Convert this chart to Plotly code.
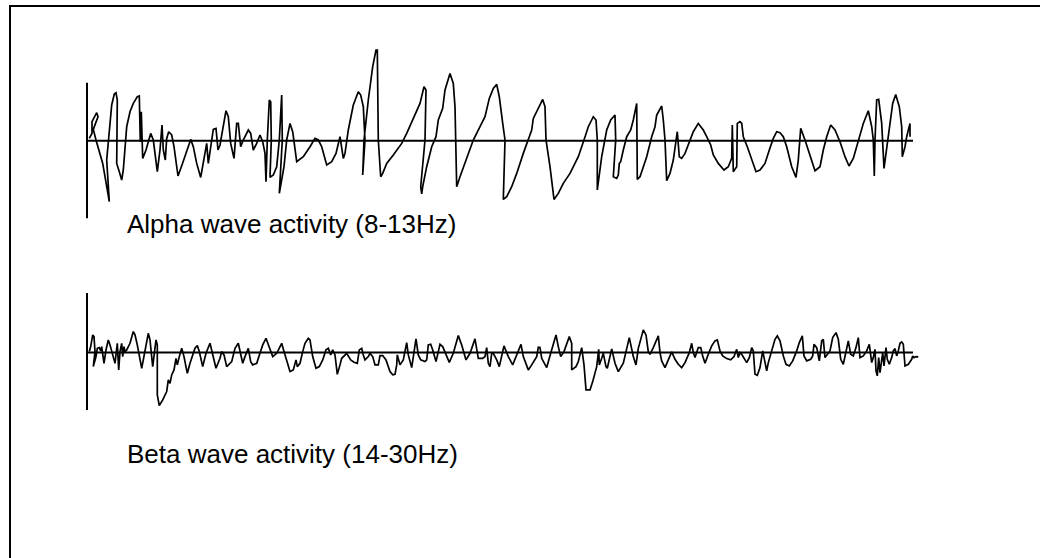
import plotly.graph_objects as go

# ---- Data (time in ms, amplitude in µV, arbitrary scale) ----
alpha_t = [2.3, 5.0, 5.0, 9.7, 11.0, 7.0, 6.3, 9.0, 13.0, 15.7, 18.0, 20.3, 22.3, 19.7, 23.0, 24.7, 27.3, 29.0, 30.3, 30.3,
           29.7, 32.3, 34.7, 36.3, 39.0, 39.7, 43.0, 46.3, 50.3, 52.3, 53.3, 54.3, 55.7, 59.0, 63.7, 66.3, 70.3, 73.0, 75.0, 76.3,
           78.3, 79.7, 81.7, 84.7, 87.0, 91.0, 95.0, 99.7, 103.7, 106.3, 109.7, 113.7, 117.0, 119.7, 121.3, 123.0, 126.3, 129.0, 131.0, 133.0,
           136.3, 139.0, 141.3, 143.7, 147.0, 149.7, 151.3, 153.7, 156.3, 161.3, 163.7, 166.3, 169.7, 173.0, 175.7, 178.0, 179.0, 180.3, 182.3, 183.7,
           184.3, 183.0, 186.3, 189.7, 192.3, 194.7, 195.3, 192.3, 197.0, 199.7, 203.0, 205.7, 209.7, 216.3, 223.0, 228.0, 231.3, 234.7, 239.7, 244.7,
           249.0, 253.0, 256.3, 258.0, 261.3, 266.3, 271.3, 273.7, 276.3, 278.0, 275.7, 277.0, 281.3, 285.7, 289.0, 290.3, 291.3, 293.7, 295.7, 299.7,
           306.3, 314.7, 319.7, 326.3, 333.0, 337.0, 339.0, 338.0, 333.7, 334.7, 335.7, 339.7, 344.7, 349.0, 351.3, 355.7, 358.0, 363.0, 366.3, 368.0,
           369.0, 369.7, 373.0, 379.0, 386.3, 393.0, 398.0, 402.3, 406.3, 409.7, 412.3, 415.7, 418.0, 416.3, 419.7, 424.7, 429.7, 436.3, 441.3, 444.7,
           446.3, 451.3, 455.7, 458.0, 459.0, 463.0, 467.0, 471.3, 476.3, 483.0, 491.3, 497.0, 501.3, 506.3, 509.0, 510.3, 510.3, 514.7, 519.7, 523.7,
           528.0, 528.7, 526.3, 529.7, 531.3, 532.3, 533.7, 536.3, 539.7, 543.7, 546.3, 549.7, 550.3, 550.3, 553.0, 559.7, 564.7, 568.0, 569.7, 573.0,
           574.7, 576.3, 578.0, 579.7, 583.0, 586.3, 589.0, 590.3, 592.3, 594.7, 598.0, 603.0, 606.3, 611.3, 616.3, 619.7, 623.7, 626.3, 631.3, 637.0,
           641.3, 644.7, 645.3, 646.3, 649.7, 650.3, 653.0, 654.7, 656.3, 660.3, 664.7, 669.0, 673.0, 678.0, 682.3, 686.3, 689.7, 693.0, 696.3, 699.7,
           704.7, 709.0, 711.3, 713.7, 718.0, 723.0, 728.0, 733.0, 736.3, 739.7, 743.7, 748.0, 753.0, 758.0, 762.0, 766.3, 771.3, 776.3, 781.3, 784.7,
           786.3, 787.3, 788.0, 789.7, 791.7, 794.7, 797.0, 799.7, 803.0, 805.7, 808.7, 812.3, 814.7, 815.3, 818.0, 819.7, 823.0, 823.0]
alpha_uv = [2.3, 7.3, 19, 28, 24, 14.7, 11.3, 0.7, -12.7, -22.7, -36, -49.3, -61, -19.3, 14, 35.7, 46.7, 48, 40.7, 0.7,
            -22.7, -31, -39.3, -29.3, 0.7, 14, 29, 37.3, 44, 44.7, -1, 29, -17.7, -9.3, 7.3, 0.7, -31, -9.3, 15.7, -9.3,
            -19.3, 2.3, 9, 5.7, -6, -35.3, -24.3, -9.3, 1.3, -6, -22.7, -36.7, -19.3, -2.7, -22.7, -9.3, 11.3, 12.3, -9.3, -4.3,
            14, 30, 24, -2.7, -17.7, 17.3, 17.3, -6, 0.7, 10.7, 7.3, -9.3, -2.7, 5.7, -1, -12.7, -41, 0.7, 40.7, 39,
            0.7, -36.7, -34.3, -26, 0.7, 45.7, 0.7, -52.7, -26, 0.7, 17.3, 9, -21, -16, -6, 2.3, 0.7, -6, -24.3, -21,
            -12.7, 4, -17.7, -12.7, 10.7, 35.7, 49, 45.7, 34, 0.7, -34.3, 0.7, 40.7, 74, 90.7, 90.7, 0.7, -36, -32.7, -22.7,
            -14.3, -2.7, 7.3, 22.3, 37.3, 54, 50.7, 0.7, -46, -53.3, -46, -26, -6, 4, 20.7, 32.3, 50.7, 67.3, 57.3, 34,
            0.7, -46, -36, -19.3, 0.7, 14, 24, 42.3, 52.3, 56.3, 44, 17.3, 0.7, -58.7, -56, -46, -32.7, -12.7, 0.7, 10.7,
            22.3, 32.3, 41.3, 34, 0.7, -26, -58.7, -52.7, -42.7, -32.7, -16, 0.7, 14, 24, 20.7, 0.7, -49.3, -16, 10.7, 20.7,
            25.7, 0.7, -36, -37.7, -34.3, -22.7, -21, -9.3, 4, 10.7, 20.7, 37.3, 0.7, -38.7, -36, -16, 4, 14, 25.7, 32.3,
            34.7, 20.7, 0.7, -40, -32.7, -19.3, 0.7, 9, -16, -17.7, -12.7, 0.7, 9, 17.3, 10.7, 4, -4.3, -14.3, -22.7, -29.3,
            -26, -17.7, 15.7, -31, -26, 17.3, 19, 17.3, 4, -6, -19.3, -31, -29.3, -22.7, -9.3, 2.3, 9, 8, 4, -6,
            -26, -36.7, -19.3, 12.3, 0.7, -14.3, -30, -26, -9.3, 4, 15.7, 10.7, -1, -16, -25.3, -17.7, 0.7, 17.3, 30, 14,
            0.7, -35.3, 0.7, 40.7, 41.3, 17.3, -27.7, -6, 20.7, 37.3, 46.3, 34, 14, -16, -6, 4, 17.3, 4]

beta_t = [2.3, 3.7, 5.7, 7.0, 8.0, 6.3, 9.0, 10.3, 12.3, 13.7, 14.7, 17.0, 19.0, 21.3, 23.0, 24.7, 26.3, 28.0, 30.3, 31.7,
          33.0, 34.7, 35.7, 37.0, 38.0, 39.7, 43.0, 46.3, 48.0, 50.3, 54.7, 58.0, 61.3, 63.0, 65.7, 69.0, 70.3, 70.3, 72.3, 75.7,
          79.7, 81.3, 83.0, 84.7, 87.0, 89.0, 90.3, 92.3, 94.7, 97.0, 100.3, 103.0, 108.0, 110.3, 112.3, 115.7, 119.0, 123.0, 126.3, 129.0,
          133.0, 134.7, 137.0, 139.7, 144.7, 148.0, 151.3, 153.0, 155.7, 158.0, 161.3, 163.7, 165.7, 169.7, 173.0, 175.7, 179.0, 182.3, 185.7, 189.7,
          193.0, 194.7, 197.0, 199.7, 203.0, 206.3, 209.0, 210.3, 213.0, 215.7, 218.0, 221.3, 223.0, 225.7, 229.0, 232.3, 235.7, 239.0, 241.3, 243.7,
          245.7, 248.0, 250.3, 253.0, 254.7, 259.7, 263.7, 267.0, 270.3, 272.3, 274.7, 276.3, 278.0, 281.3, 283.0, 285.7, 288.0, 291.3, 293.0, 295.7,
          299.0, 303.0, 305.7, 308.0, 309.7, 310.3, 313.0, 316.3, 319.7, 321.3, 324.7, 329.0, 331.3, 333.7, 338.0, 339.7, 341.3, 343.7, 345.7, 349.0,
          353.0, 355.7, 359.0, 362.3, 366.3, 371.3, 374.7, 379.0, 383.0, 388.0, 391.3, 395.7, 398.0, 399.7, 401.3, 403.0, 404.7, 406.3, 409.7, 412.3,
          417.0, 421.3, 425.7, 429.7, 434.0, 436.3, 441.3, 444.7, 449.7, 451.3, 453.0, 454.7, 459.7, 463.7, 469.0, 471.3, 473.7, 477.0, 482.3, 484.7,
          484.7, 489.0, 491.3, 494.7, 497.0, 499.0, 503.0, 505.7, 509.7, 511.7, 512.3, 514.7, 516.3, 519.0, 520.3, 524.7, 528.0, 531.3, 536.3, 542.3,
          546.3, 549.0, 551.3, 556.3, 559.0, 561.3, 563.0, 566.3, 571.3, 573.0, 574.7, 578.0, 581.3, 584.7, 588.0, 591.3, 594.7, 598.0, 602.3, 604.7,
          606.3, 608.0, 611.3, 613.7, 615.7, 618.0, 621.3, 624.7, 628.0, 630.3, 633.0, 635.7, 639.7, 643.7, 647.0, 649.7, 651.3, 653.0, 654.7, 657.0,
          659.7, 662.3, 664.7, 666.3, 668.0, 670.3, 673.0, 675.7, 678.0, 679.7, 681.3, 684.7, 688.0, 690.3, 693.0, 696.3, 699.0, 702.3, 705.7, 709.7,
          712.3, 715.3, 717.0, 719.7, 723.7, 725.7, 727.0, 729.7, 732.3, 734.7, 736.3, 738.0, 740.3, 743.0, 745.7, 749.0, 751.3, 753.7, 756.3, 759.0,
          761.3, 763.7, 766.3, 769.0, 771.3, 773.0, 776.3, 779.7, 782.3, 784.7, 786.3, 788.0, 789.0, 790.3, 791.7, 793.0, 795.7, 797.0, 799.0, 800.3,
          802.3, 804.7, 806.3, 808.0, 809.7, 811.3, 813.0, 814.7, 816.3, 818.0, 821.3, 824.7, 825.7, 827.0, 829.0, 831.3]
beta_uv = [1, 6, 17.7, 16, 1, -14, -4, 4.3, 5, 1.7, 6, -10.7, 2.7, 12.7, 7.7, 1, -4, -10.7, 9.3, -17.3,
           1, 9.3, -4, 6, 1, 2.7, 9.3, 21, 17.7, 7.7, -15.7, 1, 19.3, 12.7, -14, 12.7, 7.7, -42.3, -53, -47.3,
           -39, -27.3, -30.7, -22.3, -17.3, -5.7, -12.3, -4, 4.3, -4, -20.7, -10.7, 4.3, 7, 1, -14, -0.7, 9.3, -4, -15.7,
           -5.7, 1, -2.3, -14, -9, 4.3, 9.3, 1, -10.7, -4, 4.3, -9, -12.3, -10.7, -0.7, 7.7, 14.3, 6, -4, -0.7,
           6, 9.3, 1, -7.3, -19, -17.3, -7.3, -14, -10.7, 1, 9.3, 14.3, 12.7, -4, -15.7, -14, -7.3, 2.7, 4.3, -2.3,
           2.7, -2.3, -21.7, -12.3, -5.7, -0.7, -7.3, -9.7, -10.7, 2.7, 4.3, -2.3, -7.3, -4, -0.7, -4, -12.3, -12.3, -3, -3,
           -7.3, -19, -22.3, -21.7, -12.3, -2.3, -12.3, -7.3, 10, -2.3, -15, 13.7, -2.3, -7.3, -9, -7.3, 7.7, 8.3, 2.7, -9,
           8.3, 6, -2.3, -9.7, -0.7, 17, 7.7, -7.3, -0.7, 13.7, -5.7, -5.7, -4, 5, -10.7, -14, -0.7, -0.7, -7.3, -14,
           6.7, -4, -12.3, -2.3, 8.3, -4, -17.3, -12.3, -4, 5.3, 5, -5.7, -15, -0.7, 17.7, 6, -4, 1, 16, 9.3,
           -17.3, -14, -9, 5, -12.3, -37.3, -37.3, -29, -14, 3.3, -12.3, -5.7, -0.7, -14, -15.7, 3.7, -10.7, -19, -10.7, 15,
           -4, -12.3, 4.3, 22.7, 17.7, 1, -1.7, 5, 16.7, 0, -8.3, -15, -6.7, 0.7, -6.7, -11.7, -15, -10, 0, 9.3,
           0, -5, 5, 5, -3.3, -10.7, -1.7, 6.7, 11.7, 12.7, 1.7, -3.3, -6, -7.3, -4, 3.3, -5, 0, -1.7, -5,
           -10, -5, 5, 1.7, -21.7, -22.7, -15, 1.7, -10, -18.3, -10, 2.7, 13.3, 16.7, 11.7, -3.3, -11.7, -13.3, -8.3, 1.7,
           10, 16.7, -3.3, -8.3, -6.7, -3.3, 8.3, 5, -8.3, 11.7, 13.3, -5, -1.7, 1.7, 15, 20, 13.3, -6.7, -11.7, 0,
           11.7, -1.7, -3.3, 5, 15, -5, -3.3, 1.7, 8.3, -10, -5, 3.3, -18.3, -23.3, -5, -20, 0, -13.3, 5, -6.7,
           -11.7, -5, 1.7, 4, -3.3, 1.7, 9.3, 10.7, 8.3, -13.3, -11.7, -6.7, -3.3, -5, -4, -4.3]

labels = ["Alpha wave activity (8-13Hz)", "Beta wave activity (14-30Hz)"]
axis_end_t = 826
alpha_axis_span = [58, -77.5]
beta_axis_span = [59.5, -57.3]

W, H = 1040, 558
INK = "#000000"

fig = go.Figure()
fig.add_trace(go.Scatter(x=alpha_t, y=alpha_uv, mode="lines", xaxis="x", yaxis="y",
                         line=dict(color=INK, width=1.7), hoverinfo="skip", showlegend=False))
fig.add_trace(go.Scatter(x=beta_t, y=beta_uv, mode="lines", xaxis="x", yaxis="y2",
                         line=dict(color=INK, width=1.7), hoverinfo="skip", showlegend=False))

# axis frames (baseline + vertical scale bar) for each trace
shapes = []
for yref, span in (("y", alpha_axis_span), ("y2", beta_axis_span)):
    shapes.append(dict(type="line", xref="x", yref=yref, x0=0, x1=axis_end_t, y0=0, y1=0,
                       line=dict(color=INK, width=2)))
    shapes.append(dict(type="line", xref="x", yref=yref, x0=0, x1=0, y0=span[0], y1=span[1],
                       line=dict(color=INK, width=2)))
# outer border
shapes.append(dict(type="rect", xref="paper", yref="paper",
                   x0=10 / W, x1=1.02, y0=-0.02, y1=1 - 6 / H,
                   line=dict(color=INK, width=2), fillcolor="rgba(0,0,0,0)"))

annotations = [
    dict(text=labels[0], xref="paper", yref="paper", x=125 / W, y=1 - 224 / H,
         xanchor="left", yanchor="middle", showarrow=False,
         font=dict(family="Liberation Sans, Arial, sans-serif", size=26, color=INK)),
    dict(text=labels[1], xref="paper", yref="paper", x=125 / W, y=1 - 454 / H,
         xanchor="left", yanchor="middle", showarrow=False,
         font=dict(family="Liberation Sans, Arial, sans-serif", size=26, color=INK)),
]

hidden = dict(visible=False, showgrid=False, zeroline=False, fixedrange=True)
fig.update_layout(
    width=W, height=H, margin=dict(l=0, r=0, t=0, b=0),
    paper_bgcolor="white", plot_bgcolor="white",
    xaxis=dict(domain=[0, 1], range=[-87, W - 87], **hidden),
    yaxis=dict(domain=[0, 1], range=[140.7 - H, 140.7], **hidden),
    yaxis2=dict(domain=[0, 1], range=[352.6 - H, 352.6], overlaying="y", **hidden),
    shapes=shapes, annotations=annotations, showlegend=False,
)

fig.write_html("out.html")
